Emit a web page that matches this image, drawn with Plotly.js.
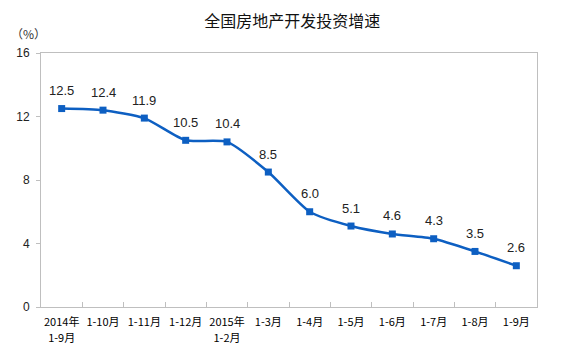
<!DOCTYPE html>
<html>
<head>
<meta charset="utf-8">
<script src="https://cdn.plot.ly/plotly-3.0.1.min.js"></script>
<style>html,body{margin:0;padding:0;background:#fff;}#chart{width:562px;height:352px;}</style>
</head>
<body>
<div id="chart"></div>
<script>
const categories = ["2014年1-9月","1-10月","1-11月","1-12月","2015年1-2月","1-3月","1-4月","1-5月","1-6月","1-7月","1-8月","1-9月"];
const tickLine1 = ["2014年","1-10月","1-11月","1-12月","2015年","1-3月","1-4月","1-5月","1-6月","1-7月","1-8月","1-9月"];
const tickLine2 = ["1-9月","","","","1-2月","","","","","","",""];
const growth = [12.5, 12.4, 11.9, 10.5, 10.4, 8.5, 6.0, 5.1, 4.6, 4.3, 3.5, 2.6];
const yTicks = [0, 4, 8, 12, 16];

const trace = {
  x: categories,
  y: growth,
  type: "scatter",
  mode: "lines+markers",
  line: {color: "#0d5fc2", width: 2.5, shape: "spline", smoothing: 0.6},
  marker: {symbol: "square", size: 7, color: "#0d5fc2"},
  hoverinfo: "skip"
};

const annotations = categories.map((c, i) => ({
  x: c, y: growth[i], xref: "x", yref: "y",
  text: growth[i].toFixed(1), showarrow: false, yshift: 18,
  font: {family: "Liberation Sans, Arial, sans-serif", size: 13, color: "#222"}
}));
annotations.push({
  xref: "paper", yref: "paper", x: -0.065, y: 1.0, yshift: 30, xanchor: "left",
  text: "（%）", showarrow: false,
  font: {family: "Noto Sans CJK SC", size: 12, color: "#333"}
});

const line2Idx = tickLine2.map((t, i) => t ? i : -1).filter(i => i >= 0);

const tickFont = {family: "Noto Sans CJK SC", size: 11, color: "#000"};

const layout = {
  width: 562, height: 352,
  margin: {l: 41, r: 25, t: 53, b: 45},
  paper_bgcolor: "#fff", plot_bgcolor: "#fff",
  showlegend: false,
  title: {text: "全国房地产开发投资增速", x: 0.52, xanchor: "center", y: 0.94, yanchor: "middle",
          font: {family: "Noto Sans CJK SC", size: 16, color: "#111"}},
  xaxis: {
    type: "category", tickson: "boundaries", ticks: "inside", ticklen: 5, tickcolor: "#bfbfbf",
    tickvals: categories, ticktext: tickLine1, tickangle: 0, automargin: false,
    showline: true, linecolor: "#bfbfbf", linewidth: 1, mirror: true, showgrid: false, zeroline: false,
    tickfont: tickFont, ticklabelstandoff: 5,
    range: [-0.5, 11.5]
  },
  xaxis2: {
    overlaying: "x", anchor: "y", side: "bottom", range: [-0.5, 11.5],
    tickvals: line2Idx, ticktext: line2Idx.map(i => tickLine2[i]), tickangle: 0, automargin: false,
    ticks: "", showline: false, showgrid: false, zeroline: false,
    tickfont: tickFont, ticklabelstandoff: 23
  },
  yaxis: {
    range: [0, 16], tickvals: yTicks, ticktext: yTicks.map(String),
    ticks: "outside", ticklen: 4, tickcolor: "#bfbfbf",
    showline: true, linecolor: "#bfbfbf", linewidth: 1, mirror: true, showgrid: false, zeroline: false,
    tickfont: {family: "Liberation Sans, Arial, sans-serif", size: 12, color: "#222"},
    ticklabelstandoff: 4
  },
  annotations: annotations
};

const helper = {x: [line2Idx[0]], y: [null], xaxis: "x2", yaxis: "y", type: "scatter", mode: "markers", showlegend: false, hoverinfo: "skip"};

Plotly.newPlot("chart", [trace, helper], layout, {displayModeBar: false, staticPlot: true});
</script>
</body>
</html>
